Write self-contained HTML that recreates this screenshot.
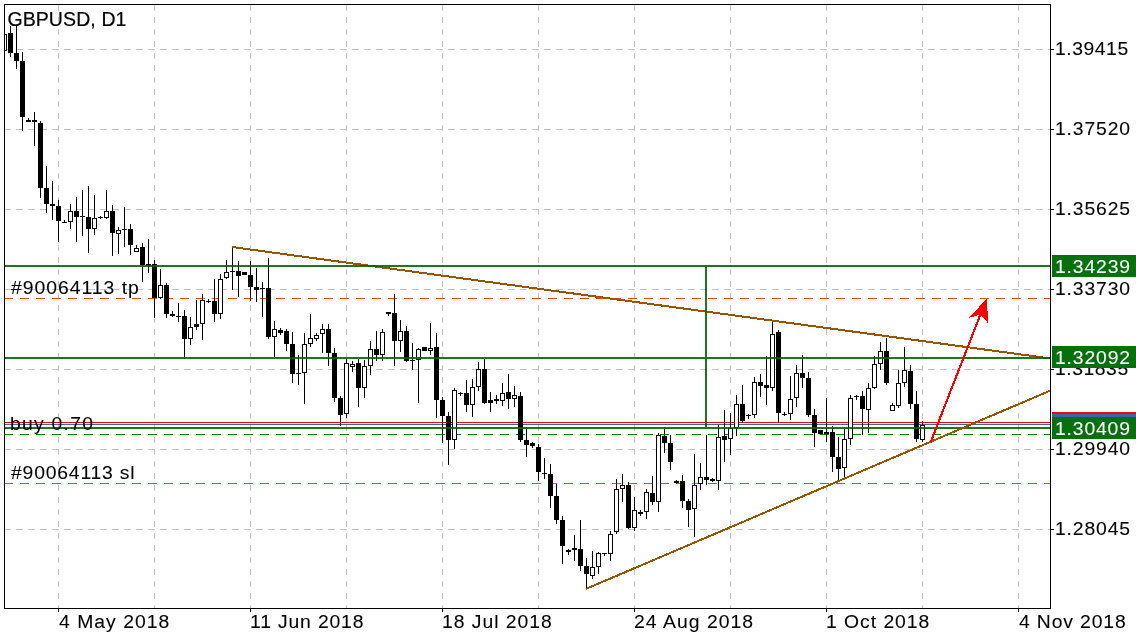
<!DOCTYPE html>
<html lang="en"><head><meta charset="utf-8"><title>GBPUSD, D1</title>
<style>
html,body{margin:0;padding:0;background:#fff;}
body{transform:translateZ(0);will-change:transform;width:1136px;height:640px;overflow:hidden;position:relative;font-family:"Liberation Sans",Arial,Helvetica,sans-serif;color:#000;}
svg{position:absolute;left:0;top:0;display:block;}
.t{position:absolute;white-space:nowrap;font-size:17.60px;line-height:20px;height:20px;color:#000;transform-origin:0 0;transform:scaleX(1.100);-webkit-text-stroke:0.08px currentColor;}
.title{position:absolute;white-space:nowrap;font-size:19px;line-height:22px;letter-spacing:0;color:#000;-webkit-text-stroke:0.2px #000;}
.box{position:absolute;left:1052px;width:84px;height:22px;}
</style></head><body>
<svg width="1136" height="640" viewBox="0 0 1136 640" shape-rendering="crispEdges">
<defs><clipPath id="cp"><rect x="5" y="5" width="1045" height="603"/></clipPath></defs>
<rect x="0" y="0" width="1136" height="640" fill="#fff"/>
<g clip-path="url(#cp)">
<g fill="none" stroke="#c4c4c4" stroke-width="1">
<line x1="4" y1="49.5" x2="1050" y2="49.5" stroke-dasharray="7 5"/>
<line x1="4" y1="129.5" x2="1050" y2="129.5" stroke-dasharray="7 5"/>
<line x1="4" y1="209.5" x2="1050" y2="209.5" stroke-dasharray="7 5"/>
<line x1="4" y1="289.5" x2="1050" y2="289.5" stroke-dasharray="7 5"/>
<line x1="4" y1="369.5" x2="1050" y2="369.5" stroke-dasharray="7 5"/>
<line x1="4" y1="449.5" x2="1050" y2="449.5" stroke-dasharray="7 5"/>
<line x1="4" y1="529.5" x2="1050" y2="529.5" stroke-dasharray="7 5"/>
<line x1="58.5" y1="5" x2="58.5" y2="608" stroke-dasharray="6 6"/>
<line x1="154.5" y1="5" x2="154.5" y2="608" stroke-dasharray="6 6"/>
<line x1="250.5" y1="5" x2="250.5" y2="608" stroke-dasharray="6 6"/>
<line x1="346.5" y1="5" x2="346.5" y2="608" stroke-dasharray="6 6"/>
<line x1="442.5" y1="5" x2="442.5" y2="608" stroke-dasharray="6 6"/>
<line x1="538.5" y1="5" x2="538.5" y2="608" stroke-dasharray="6 6"/>
<line x1="634.5" y1="5" x2="634.5" y2="608" stroke-dasharray="6 6"/>
<line x1="730.5" y1="5" x2="730.5" y2="608" stroke-dasharray="6 6"/>
<line x1="826.5" y1="5" x2="826.5" y2="608" stroke-dasharray="6 6"/>
<line x1="922.5" y1="5" x2="922.5" y2="608" stroke-dasharray="6 6"/>
<line x1="1018.5" y1="5" x2="1018.5" y2="608" stroke-dasharray="6 6"/>
</g>
<line x1="4" y1="298.5" x2="1050" y2="298.5" stroke="#ff4500" stroke-width="1" stroke-dasharray="9 7"/>
<line x1="4" y1="483.5" x2="1050" y2="483.5" stroke="#ff4500" stroke-width="1" stroke-dasharray="9 7"/>
<line x1="4" y1="434.5" x2="1050" y2="434.5" stroke="#008000" stroke-width="1" stroke-dasharray="9 7"/>
<rect x="4" y="422" width="1047" height="1" fill="#ff0000"/>
<rect x="4" y="424" width="1047" height="1" fill="#3869a6"/>
<g fill="#000">
<rect x="4" y="34" width="1" height="17"/>
<rect x="2" y="34" width="5" height="17"/>
<rect x="3" y="35" width="3" height="15" fill="#fff"/>
<rect x="10" y="26" width="1" height="31"/>
<rect x="8" y="33" width="5" height="20"/>
<rect x="16" y="26" width="1" height="43"/>
<rect x="14" y="53" width="5" height="8"/>
<rect x="22" y="52" width="1" height="79"/>
<rect x="20" y="61" width="5" height="56"/>
<rect x="28" y="118" width="1" height="4"/>
<rect x="26" y="120" width="5" height="2"/>
<rect x="34" y="112" width="1" height="34"/>
<rect x="32" y="120" width="5" height="2"/>
<rect x="40" y="121" width="1" height="77"/>
<rect x="38" y="123" width="5" height="65"/>
<rect x="46" y="166" width="1" height="47"/>
<rect x="44" y="188" width="5" height="16"/>
<rect x="52" y="181" width="1" height="39"/>
<rect x="50" y="204" width="5" height="2"/>
<rect x="58" y="200" width="1" height="42"/>
<rect x="56" y="206" width="5" height="15"/>
<rect x="64" y="220" width="1" height="3"/>
<rect x="62" y="222" width="5" height="1"/>
<rect x="70" y="204" width="1" height="25"/>
<rect x="68" y="211" width="5" height="11"/>
<rect x="69" y="212" width="3" height="9" fill="#fff"/>
<rect x="76" y="197" width="1" height="45"/>
<rect x="74" y="211" width="5" height="6"/>
<rect x="82" y="190" width="1" height="46"/>
<rect x="80" y="216" width="5" height="1"/>
<rect x="88" y="186" width="1" height="67"/>
<rect x="86" y="217" width="5" height="12"/>
<rect x="94" y="195" width="1" height="40"/>
<rect x="92" y="218" width="5" height="11"/>
<rect x="93" y="219" width="3" height="9" fill="#fff"/>
<rect x="100" y="216" width="1" height="3"/>
<rect x="98" y="217" width="5" height="1"/>
<rect x="106" y="190" width="1" height="29"/>
<rect x="104" y="211" width="5" height="7"/>
<rect x="105" y="212" width="3" height="5" fill="#fff"/>
<rect x="112" y="205" width="1" height="51"/>
<rect x="110" y="211" width="5" height="22"/>
<rect x="118" y="227" width="1" height="27"/>
<rect x="116" y="230" width="5" height="4"/>
<rect x="117" y="231" width="3" height="2" fill="#fff"/>
<rect x="124" y="207" width="1" height="40"/>
<rect x="122" y="229" width="5" height="1"/>
<rect x="130" y="224" width="1" height="31"/>
<rect x="128" y="229" width="5" height="16"/>
<rect x="136" y="245" width="1" height="7"/>
<rect x="134" y="248" width="5" height="4"/>
<rect x="135" y="249" width="3" height="2" fill="#fff"/>
<rect x="142" y="243" width="1" height="39"/>
<rect x="140" y="247" width="5" height="18"/>
<rect x="148" y="239" width="1" height="34"/>
<rect x="146" y="264" width="5" height="2"/>
<rect x="154" y="260" width="1" height="58"/>
<rect x="152" y="264" width="5" height="34"/>
<rect x="160" y="269" width="1" height="30"/>
<rect x="158" y="285" width="5" height="13"/>
<rect x="159" y="286" width="3" height="11" fill="#fff"/>
<rect x="166" y="283" width="1" height="35"/>
<rect x="164" y="285" width="5" height="29"/>
<rect x="172" y="311" width="1" height="6"/>
<rect x="170" y="314" width="5" height="2"/>
<rect x="178" y="303" width="1" height="19"/>
<rect x="176" y="316" width="5" height="1"/>
<rect x="184" y="310" width="1" height="49"/>
<rect x="182" y="316" width="5" height="23"/>
<rect x="190" y="317" width="1" height="28"/>
<rect x="188" y="327" width="5" height="12"/>
<rect x="189" y="328" width="3" height="10" fill="#fff"/>
<rect x="196" y="300" width="1" height="30"/>
<rect x="194" y="324" width="5" height="3"/>
<rect x="202" y="294" width="1" height="46"/>
<rect x="200" y="300" width="5" height="24"/>
<rect x="201" y="301" width="3" height="22" fill="#fff"/>
<rect x="208" y="299" width="1" height="4"/>
<rect x="206" y="301" width="5" height="1"/>
<rect x="214" y="279" width="1" height="43"/>
<rect x="212" y="301" width="5" height="13"/>
<rect x="220" y="274" width="1" height="45"/>
<rect x="218" y="279" width="5" height="35"/>
<rect x="219" y="280" width="3" height="33" fill="#fff"/>
<rect x="226" y="260" width="1" height="19"/>
<rect x="224" y="272" width="5" height="6"/>
<rect x="225" y="273" width="3" height="4" fill="#fff"/>
<rect x="232" y="247" width="1" height="43"/>
<rect x="230" y="271" width="5" height="1"/>
<rect x="238" y="261" width="1" height="36"/>
<rect x="236" y="271" width="5" height="5"/>
<rect x="244" y="272" width="1" height="3"/>
<rect x="242" y="272" width="5" height="3"/>
<rect x="250" y="261" width="1" height="40"/>
<rect x="248" y="275" width="5" height="12"/>
<rect x="256" y="268" width="1" height="34"/>
<rect x="254" y="287" width="5" height="3"/>
<rect x="262" y="282" width="1" height="35"/>
<rect x="260" y="288" width="5" height="1"/>
<rect x="268" y="258" width="1" height="81"/>
<rect x="266" y="288" width="5" height="49"/>
<rect x="274" y="321" width="1" height="36"/>
<rect x="272" y="329" width="5" height="8"/>
<rect x="273" y="330" width="3" height="6" fill="#fff"/>
<rect x="280" y="328" width="1" height="7"/>
<rect x="278" y="330" width="5" height="3"/>
<rect x="286" y="329" width="1" height="22"/>
<rect x="284" y="331" width="5" height="13"/>
<rect x="292" y="332" width="1" height="51"/>
<rect x="290" y="344" width="5" height="30"/>
<rect x="298" y="355" width="1" height="30"/>
<rect x="296" y="373" width="5" height="1"/>
<rect x="304" y="333" width="1" height="71"/>
<rect x="302" y="344" width="5" height="29"/>
<rect x="303" y="345" width="3" height="27" fill="#fff"/>
<rect x="310" y="314" width="1" height="33"/>
<rect x="308" y="338" width="5" height="6"/>
<rect x="309" y="339" width="3" height="4" fill="#fff"/>
<rect x="316" y="333" width="1" height="8"/>
<rect x="314" y="335" width="5" height="4"/>
<rect x="315" y="336" width="3" height="2" fill="#fff"/>
<rect x="322" y="324" width="1" height="29"/>
<rect x="320" y="329" width="5" height="5"/>
<rect x="321" y="330" width="3" height="3" fill="#fff"/>
<rect x="328" y="324" width="1" height="42"/>
<rect x="326" y="329" width="5" height="24"/>
<rect x="334" y="348" width="1" height="54"/>
<rect x="332" y="353" width="5" height="45"/>
<rect x="340" y="396" width="1" height="30"/>
<rect x="338" y="398" width="5" height="17"/>
<rect x="346" y="359" width="1" height="59"/>
<rect x="344" y="363" width="5" height="51"/>
<rect x="345" y="364" width="3" height="49" fill="#fff"/>
<rect x="352" y="361" width="1" height="11"/>
<rect x="350" y="364" width="5" height="3"/>
<rect x="351" y="365" width="3" height="1" fill="#fff"/>
<rect x="358" y="359" width="1" height="48"/>
<rect x="356" y="363" width="5" height="25"/>
<rect x="364" y="360" width="1" height="38"/>
<rect x="362" y="366" width="5" height="22"/>
<rect x="363" y="367" width="3" height="20" fill="#fff"/>
<rect x="370" y="341" width="1" height="34"/>
<rect x="368" y="349" width="5" height="17"/>
<rect x="369" y="350" width="3" height="15" fill="#fff"/>
<rect x="376" y="331" width="1" height="30"/>
<rect x="374" y="349" width="5" height="6"/>
<rect x="382" y="329" width="1" height="32"/>
<rect x="380" y="332" width="5" height="23"/>
<rect x="381" y="333" width="3" height="21" fill="#fff"/>
<rect x="388" y="312" width="1" height="4"/>
<rect x="386" y="312" width="5" height="2"/>
<rect x="394" y="294" width="1" height="72"/>
<rect x="392" y="313" width="5" height="28"/>
<rect x="400" y="320" width="1" height="32"/>
<rect x="398" y="331" width="5" height="10"/>
<rect x="399" y="332" width="3" height="8" fill="#fff"/>
<rect x="406" y="326" width="1" height="36"/>
<rect x="404" y="331" width="5" height="30"/>
<rect x="412" y="343" width="1" height="27"/>
<rect x="410" y="360" width="5" height="1"/>
<rect x="418" y="348" width="1" height="55"/>
<rect x="416" y="349" width="5" height="11"/>
<rect x="417" y="350" width="3" height="9" fill="#fff"/>
<rect x="424" y="347" width="1" height="4"/>
<rect x="422" y="347" width="5" height="4"/>
<rect x="430" y="323" width="1" height="32"/>
<rect x="428" y="348" width="5" height="3"/>
<rect x="429" y="349" width="3" height="1" fill="#fff"/>
<rect x="436" y="333" width="1" height="85"/>
<rect x="434" y="347" width="5" height="53"/>
<rect x="442" y="397" width="1" height="46"/>
<rect x="440" y="400" width="5" height="16"/>
<rect x="448" y="412" width="1" height="53"/>
<rect x="446" y="416" width="5" height="24"/>
<rect x="454" y="388" width="1" height="61"/>
<rect x="452" y="390" width="5" height="50"/>
<rect x="453" y="391" width="3" height="48" fill="#fff"/>
<rect x="460" y="392" width="1" height="4"/>
<rect x="458" y="393" width="5" height="1"/>
<rect x="466" y="380" width="1" height="32"/>
<rect x="464" y="393" width="5" height="12"/>
<rect x="472" y="379" width="1" height="38"/>
<rect x="470" y="387" width="5" height="18"/>
<rect x="471" y="388" width="3" height="16" fill="#fff"/>
<rect x="478" y="362" width="1" height="29"/>
<rect x="476" y="369" width="5" height="18"/>
<rect x="477" y="370" width="3" height="16" fill="#fff"/>
<rect x="484" y="359" width="1" height="45"/>
<rect x="482" y="369" width="5" height="34"/>
<rect x="490" y="392" width="1" height="20"/>
<rect x="488" y="400" width="5" height="3"/>
<rect x="496" y="395" width="1" height="9"/>
<rect x="494" y="399" width="5" height="2"/>
<rect x="502" y="383" width="1" height="23"/>
<rect x="500" y="393" width="5" height="8"/>
<rect x="501" y="394" width="3" height="6" fill="#fff"/>
<rect x="508" y="374" width="1" height="35"/>
<rect x="506" y="392" width="5" height="7"/>
<rect x="514" y="386" width="1" height="21"/>
<rect x="512" y="395" width="5" height="4"/>
<rect x="513" y="396" width="3" height="2" fill="#fff"/>
<rect x="520" y="392" width="1" height="50"/>
<rect x="518" y="396" width="5" height="44"/>
<rect x="526" y="427" width="1" height="30"/>
<rect x="524" y="440" width="5" height="5"/>
<rect x="532" y="442" width="1" height="6"/>
<rect x="530" y="443" width="5" height="3"/>
<rect x="538" y="444" width="1" height="37"/>
<rect x="536" y="447" width="5" height="25"/>
<rect x="544" y="458" width="1" height="21"/>
<rect x="542" y="473" width="5" height="1"/>
<rect x="550" y="464" width="1" height="44"/>
<rect x="548" y="474" width="5" height="22"/>
<rect x="556" y="484" width="1" height="40"/>
<rect x="554" y="496" width="5" height="24"/>
<rect x="562" y="516" width="1" height="48"/>
<rect x="560" y="520" width="5" height="26"/>
<rect x="568" y="549" width="1" height="6"/>
<rect x="566" y="550" width="5" height="2"/>
<rect x="574" y="535" width="1" height="26"/>
<rect x="572" y="548" width="5" height="2"/>
<rect x="580" y="520" width="1" height="51"/>
<rect x="578" y="549" width="5" height="17"/>
<rect x="586" y="558" width="1" height="31"/>
<rect x="584" y="566" width="5" height="8"/>
<rect x="592" y="551" width="1" height="28"/>
<rect x="590" y="567" width="5" height="9"/>
<rect x="591" y="568" width="3" height="7" fill="#fff"/>
<rect x="598" y="552" width="1" height="22"/>
<rect x="596" y="553" width="5" height="14"/>
<rect x="597" y="554" width="3" height="12" fill="#fff"/>
<rect x="604" y="553" width="1" height="3"/>
<rect x="602" y="553" width="5" height="1"/>
<rect x="610" y="531" width="1" height="30"/>
<rect x="608" y="534" width="5" height="20"/>
<rect x="609" y="535" width="3" height="18" fill="#fff"/>
<rect x="616" y="479" width="1" height="55"/>
<rect x="614" y="489" width="5" height="43"/>
<rect x="615" y="490" width="3" height="41" fill="#fff"/>
<rect x="622" y="474" width="1" height="28"/>
<rect x="620" y="485" width="5" height="4"/>
<rect x="621" y="486" width="3" height="2" fill="#fff"/>
<rect x="628" y="482" width="1" height="47"/>
<rect x="626" y="485" width="5" height="43"/>
<rect x="634" y="497" width="1" height="34"/>
<rect x="632" y="510" width="5" height="18"/>
<rect x="633" y="511" width="3" height="16" fill="#fff"/>
<rect x="640" y="510" width="1" height="6"/>
<rect x="638" y="512" width="5" height="2"/>
<rect x="646" y="489" width="1" height="30"/>
<rect x="644" y="492" width="5" height="20"/>
<rect x="645" y="493" width="3" height="18" fill="#fff"/>
<rect x="652" y="476" width="1" height="29"/>
<rect x="650" y="493" width="5" height="9"/>
<rect x="658" y="433" width="1" height="79"/>
<rect x="656" y="435" width="5" height="67"/>
<rect x="657" y="436" width="3" height="65" fill="#fff"/>
<rect x="664" y="427" width="1" height="26"/>
<rect x="662" y="436" width="5" height="7"/>
<rect x="670" y="435" width="1" height="35"/>
<rect x="668" y="443" width="5" height="19"/>
<rect x="676" y="480" width="1" height="4"/>
<rect x="674" y="481" width="5" height="2"/>
<rect x="682" y="475" width="1" height="33"/>
<rect x="680" y="481" width="5" height="20"/>
<rect x="688" y="499" width="1" height="28"/>
<rect x="686" y="501" width="5" height="9"/>
<rect x="694" y="454" width="1" height="83"/>
<rect x="692" y="485" width="5" height="24"/>
<rect x="693" y="486" width="3" height="22" fill="#fff"/>
<rect x="700" y="463" width="1" height="27"/>
<rect x="698" y="477" width="5" height="7"/>
<rect x="699" y="478" width="3" height="5" fill="#fff"/>
<rect x="706" y="435" width="1" height="50"/>
<rect x="704" y="477" width="5" height="3"/>
<rect x="712" y="478" width="1" height="4"/>
<rect x="710" y="479" width="5" height="2"/>
<rect x="718" y="425" width="1" height="65"/>
<rect x="716" y="437" width="5" height="44"/>
<rect x="717" y="438" width="3" height="42" fill="#fff"/>
<rect x="724" y="410" width="1" height="52"/>
<rect x="722" y="436" width="5" height="4"/>
<rect x="730" y="413" width="1" height="42"/>
<rect x="728" y="428" width="5" height="11"/>
<rect x="729" y="429" width="3" height="9" fill="#fff"/>
<rect x="736" y="395" width="1" height="41"/>
<rect x="734" y="404" width="5" height="24"/>
<rect x="735" y="405" width="3" height="22" fill="#fff"/>
<rect x="742" y="385" width="1" height="38"/>
<rect x="740" y="404" width="5" height="17"/>
<rect x="748" y="414" width="1" height="5"/>
<rect x="746" y="415" width="5" height="1"/>
<rect x="754" y="377" width="1" height="41"/>
<rect x="752" y="382" width="5" height="33"/>
<rect x="753" y="383" width="3" height="31" fill="#fff"/>
<rect x="760" y="374" width="1" height="23"/>
<rect x="758" y="382" width="5" height="4"/>
<rect x="766" y="356" width="1" height="49"/>
<rect x="764" y="385" width="5" height="3"/>
<rect x="772" y="321" width="1" height="70"/>
<rect x="770" y="334" width="5" height="54"/>
<rect x="771" y="335" width="3" height="52" fill="#fff"/>
<rect x="778" y="330" width="1" height="93"/>
<rect x="776" y="332" width="5" height="81"/>
<rect x="784" y="412" width="1" height="4"/>
<rect x="782" y="414" width="5" height="1"/>
<rect x="790" y="376" width="1" height="44"/>
<rect x="788" y="399" width="5" height="15"/>
<rect x="789" y="400" width="3" height="13" fill="#fff"/>
<rect x="796" y="365" width="1" height="42"/>
<rect x="794" y="373" width="5" height="25"/>
<rect x="795" y="374" width="3" height="23" fill="#fff"/>
<rect x="802" y="355" width="1" height="33"/>
<rect x="800" y="373" width="5" height="5"/>
<rect x="808" y="372" width="1" height="45"/>
<rect x="806" y="378" width="5" height="37"/>
<rect x="814" y="409" width="1" height="38"/>
<rect x="812" y="415" width="5" height="18"/>
<rect x="820" y="430" width="1" height="4"/>
<rect x="818" y="430" width="5" height="4"/>
<rect x="826" y="398" width="1" height="44"/>
<rect x="824" y="432" width="5" height="2"/>
<rect x="832" y="426" width="1" height="46"/>
<rect x="830" y="432" width="5" height="25"/>
<rect x="838" y="437" width="1" height="43"/>
<rect x="836" y="457" width="5" height="12"/>
<rect x="844" y="427" width="1" height="53"/>
<rect x="842" y="439" width="5" height="29"/>
<rect x="843" y="440" width="3" height="27" fill="#fff"/>
<rect x="850" y="395" width="1" height="50"/>
<rect x="848" y="398" width="5" height="41"/>
<rect x="849" y="399" width="3" height="39" fill="#fff"/>
<rect x="856" y="395" width="1" height="5"/>
<rect x="854" y="396" width="5" height="1"/>
<rect x="862" y="391" width="1" height="44"/>
<rect x="860" y="396" width="5" height="13"/>
<rect x="868" y="383" width="1" height="50"/>
<rect x="866" y="388" width="5" height="22"/>
<rect x="867" y="389" width="3" height="20" fill="#fff"/>
<rect x="874" y="356" width="1" height="33"/>
<rect x="872" y="364" width="5" height="24"/>
<rect x="873" y="365" width="3" height="22" fill="#fff"/>
<rect x="880" y="342" width="1" height="28"/>
<rect x="878" y="351" width="5" height="13"/>
<rect x="879" y="352" width="3" height="11" fill="#fff"/>
<rect x="886" y="338" width="1" height="47"/>
<rect x="884" y="351" width="5" height="32"/>
<rect x="892" y="403" width="1" height="8"/>
<rect x="890" y="405" width="5" height="6"/>
<rect x="891" y="406" width="3" height="4" fill="#fff"/>
<rect x="898" y="370" width="1" height="38"/>
<rect x="896" y="383" width="5" height="23"/>
<rect x="897" y="384" width="3" height="21" fill="#fff"/>
<rect x="904" y="347" width="1" height="40"/>
<rect x="902" y="370" width="5" height="13"/>
<rect x="903" y="371" width="3" height="11" fill="#fff"/>
<rect x="910" y="365" width="1" height="44"/>
<rect x="908" y="371" width="5" height="33"/>
<rect x="916" y="391" width="1" height="51"/>
<rect x="914" y="404" width="5" height="35"/>
<rect x="922" y="421" width="1" height="21"/>
<rect x="920" y="425" width="5" height="15"/>
<rect x="921" y="426" width="3" height="13" fill="#fff"/>
</g>
<line x1="232" y1="247" x2="1051" y2="358.55" stroke="#9a5500" stroke-width="2"/>
<g fill="#006400" opacity="0.88">
<rect x="4" y="265" width="1047" height="2"/>
<rect x="4" y="357" width="1047" height="2"/>
<rect x="4" y="427" width="1047" height="2"/>
<rect x="705" y="265" width="2" height="163"/>
</g>
<line x1="586.2" y1="588.8" x2="1051" y2="390.3" stroke="#9a5500" stroke-width="2"/>
<line x1="930.5" y1="442.5" x2="981" y2="313" stroke="#ff0000" stroke-width="2.1"/>
<polygon points="987,298.5 968.8,317.9 980.6,314.6 988,323.2" fill="#ff0000"/>
</g>
<g fill="#000">
<rect x="4" y="4" width="1047" height="1"/>
<rect x="4" y="608" width="1047" height="1"/>
<rect x="4" y="4" width="1" height="605"/>
<rect x="1050" y="4" width="1" height="605"/>
<rect x="1051" y="49" width="3" height="1"/>
<rect x="1051" y="129" width="3" height="1"/>
<rect x="1051" y="209" width="3" height="1"/>
<rect x="1051" y="289" width="3" height="1"/>
<rect x="1051" y="369" width="3" height="1"/>
<rect x="1051" y="449" width="3" height="1"/>
<rect x="1051" y="529" width="3" height="1"/>
<rect x="58" y="609" width="1" height="3"/>
<rect x="250" y="609" width="1" height="3"/>
<rect x="442" y="609" width="1" height="3"/>
<rect x="634" y="609" width="1" height="3"/>
<rect x="826" y="609" width="1" height="3"/>
<rect x="1018" y="609" width="1" height="3"/>
</g>
</svg>
<div class="title" style="left:7.4px;top:8.3px;font-size:19.5px;letter-spacing:0.1px">GBPUSD, D1</div>
<div class="t" style="left:10.60px;top:278.20px;letter-spacing:0.901px;color:#000;">#90064113 tp</div>
<div class="t" style="left:10.00px;top:414.20px;letter-spacing:1.132px;color:#000;">buy 0.70</div>
<div class="t" style="left:10.60px;top:463.20px;letter-spacing:0.727px;color:#000;">#90064113 sl</div>
<div class="t" style="left:58.50px;top:612.20px;letter-spacing:0.922px;color:#000;">4 May 2018</div>
<div class="t" style="left:249.60px;top:612.20px;letter-spacing:0.759px;color:#000;">11 Jun 2018</div>
<div class="t" style="left:441.60px;top:612.20px;letter-spacing:0.873px;color:#000;">18 Jul 2018</div>
<div class="t" style="left:633.63px;top:612.20px;letter-spacing:0.946px;color:#000;">24 Aug 2018</div>
<div class="t" style="left:825.60px;top:612.20px;letter-spacing:0.874px;color:#000;">1 Oct 2018</div>
<div class="t" style="left:1018.50px;top:612.20px;letter-spacing:0.785px;color:#000;">4 Nov 2018</div>
<div class="t" style="left:1055.20px;top:39.20px;letter-spacing:0.487px;color:#000;">1.39415</div>
<div class="t" style="left:1055.20px;top:119.20px;letter-spacing:0.780px;color:#000;">1.37520</div>
<div class="t" style="left:1055.20px;top:199.20px;letter-spacing:0.780px;color:#000;">1.35625</div>
<div class="t" style="left:1055.20px;top:279.20px;letter-spacing:0.780px;color:#000;">1.33730</div>
<div class="t" style="left:1055.20px;top:359.20px;letter-spacing:0.487px;color:#000;">1.31835</div>
<div class="t" style="left:1055.20px;top:439.20px;letter-spacing:0.780px;color:#000;">1.29940</div>
<div class="t" style="left:1055.20px;top:519.20px;letter-spacing:0.780px;color:#000;">1.28045</div>
<div class="box" style="top:255px;background:#06700c;"></div>
<div class="box" style="top:346px;background:#06700c;"></div>
<div class="box" style="top:412px;background:#ff0000;"></div>
<div class="box" style="top:414px;background:#3869a6;"></div>
<div class="box" style="top:417px;background:#06700c;"></div>
<div class="t" style="left:1055.20px;top:257.20px;letter-spacing:0.780px;color:#fff;">1.34239</div>
<div class="t" style="left:1055.20px;top:348.20px;letter-spacing:0.780px;color:#fff;">1.32092</div>
<div class="t" style="left:1055.00px;top:419.20px;letter-spacing:0.761px;color:#fff;">1.30409</div>
</body></html>
